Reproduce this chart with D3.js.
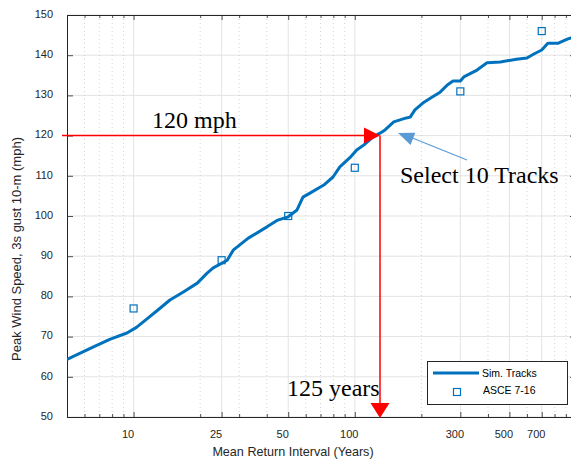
<!DOCTYPE html>
<html><head><meta charset="utf-8">
<script src="https://cdn.jsdelivr.net/npm/d3@7"></script>
<style>
body{margin:0;background:#fff;}
svg{display:block;}
</style></head>
<body><svg id="c" width="571" height="462"></svg>
<script>
// ---- data ----
const simYears = [5, 6.55, 7.8, 9.33, 10.3, 11.5, 13, 14.6, 17, 19.4, 21.5, 22.9, 26.5, 28.2, 33, 40.1, 44.5, 50, 54.8, 58.3, 62.7, 72.4, 79.7, 85.6, 95, 102, 110, 121, 130, 137, 150, 171, 178, 187, 203, 224, 243, 262, 278, 300, 311, 357, 396, 455, 538, 600, 645, 700, 746, 832, 914, 948, 1000];
const simSpeed = [64.3, 67.4, 69.3, 70.9, 72.3, 74.4, 76.8, 79.1, 81.3, 83.3, 85.8, 87.1, 89.0, 91.5, 94.5, 97.3, 98.9, 99.8, 101.5, 104.7, 105.7, 107.7, 109.7, 112.2, 114.5, 116.4, 117.7, 119.7, 120.6, 121.4, 123.4, 124.4, 124.6, 126.4, 128.1, 129.6, 130.8, 132.6, 133.6, 133.6, 134.6, 136.3, 138.1, 138.3, 139.0, 139.3, 140.3, 141.3, 143.0, 143.0, 144.0, 144.3, 144.5];
const asceYears = [10, 25, 50, 100, 300, 700];
const asceSpeed = [77, 89, 100, 112, 131, 146];
const xTickValues = [10, 25, 50, 100, 300, 500, 700];
const xTickLabels = ["10", "25", "50", "100", "300", "500", "700"];
const xMinorValues = [6, 7, 8, 9, 20, 30, 40, 60, 70, 80, 90, 200, 400, 600, 800, 900];
const yTickValues = [50, 60, 70, 80, 90, 100, 110, 120, 130, 140, 150];
const seriesNames = ["Sim. Tracks", "ASCE 7-16"];
const annotLabels = ["120 mph", "125 years", "Select 10 Tracks"];
const targetSpeed = 120;      // horizontal red arrow level (mph)
const targetArrowYears = 130; // position of the vertical red arrow as drawn

// ---- layout ----
const L = 67, R = 576, T = 15, B = 417;
const sans = "'Liberation Sans',Arial,Helvetica,sans-serif";
const serif = "'Liberation Serif','Times New Roman',Times,serif";
const svg = d3.select("#c");
const x = d3.scaleLog().domain([5, 1000]).range([L, R]);
const y = d3.scaleLinear().domain([50, 150]).range([B, T]);
const blue = "#0072BD", axCol = "#262626";

svg.append("defs").append("clipPath").attr("id","clip")
  .append("rect").attr("x",L).attr("y",T).attr("width",R-L).attr("height",B-T);

// grid
const g = svg.append("g");
g.selectAll(".ym").data(yTickValues).join("line")
  .attr("x1",L).attr("x2",R).attr("y1",d=>y(d)).attr("y2",d=>y(d))
  .attr("stroke","#e3e3e3").attr("stroke-width",1);
g.selectAll(".xmin").data(xMinorValues).join("line")
  .attr("x1",d=>x(d)).attr("x2",d=>x(d)).attr("y1",T).attr("y2",B)
  .attr("stroke","#c8c8c8").attr("stroke-width",0.8).attr("stroke-dasharray","1,3");
g.selectAll(".xmaj").data(xTickValues).join("line")
  .attr("x1",d=>x(d)).attr("x2",d=>x(d)).attr("y1",T).attr("y2",B)
  .attr("stroke","#e3e3e3").attr("stroke-width",1);

// axes
const fmt = (d)=> xTickLabels[xTickValues.indexOf(d)];
const xb = svg.append("g").attr("transform",`translate(0,${B})`)
  .call(d3.axisBottom(x).tickValues(xTickValues).tickFormat(fmt).tickSizeInner(-5).tickSizeOuter(0).tickPadding(13));
const xbm = svg.append("g").attr("transform",`translate(0,${B})`)
  .call(d3.axisBottom(x).tickValues(xMinorValues).tickFormat("").tickSizeInner(-3).tickSizeOuter(0));
const xt = svg.append("g").attr("transform",`translate(0,${T})`)
  .call(d3.axisTop(x).tickValues(xTickValues).tickFormat("").tickSizeInner(-5).tickSizeOuter(0));
const xtm = svg.append("g").attr("transform",`translate(0,${T})`)
  .call(d3.axisTop(x).tickValues(xMinorValues).tickFormat("").tickSizeInner(-3).tickSizeOuter(0));
const yl = svg.append("g").attr("transform",`translate(${L},0)`)
  .call(d3.axisLeft(y).tickValues(yTickValues).tickSizeInner(-6).tickSizeOuter(0).tickPadding(14));
const yr = svg.append("g").attr("transform",`translate(${R},0)`)
  .call(d3.axisRight(y).tickValues(yTickValues).tickFormat("").tickSizeInner(-6).tickSizeOuter(0));
[xb,xbm,xt,xtm,yl,yr].forEach(a=>{
  a.select(".domain").attr("stroke",axCol).attr("stroke-width",1);
  a.selectAll(".tick line").attr("stroke",axCol).attr("stroke-width",0.8);
  a.selectAll(".tick text").attr("fill",axCol).style("font-size","11px").style("font-family",sans);
});
xb.selectAll(".tick text").attr("dx",-6);
yl.selectAll(".tick text").attr("dy","0.2em");

// axis labels
svg.append("text").attr("x",293).attr("y",456).attr("text-anchor","middle")
  .style("font-size","12.6px").style("font-family",sans).attr("fill",axCol).text("Mean Return Interval (Years)");
svg.append("text").attr("transform","translate(21,249) rotate(-90)").attr("text-anchor","middle")
  .style("font-size","13px").style("font-family",sans).attr("fill",axCol).text("Peak Wind Speed, 3s gust 10-m (mph)");

// series
const plot = svg.append("g").attr("clip-path","url(#clip)");
const lineData = simYears.map((v,i)=>[v,simSpeed[i]]);
plot.append("path").datum(lineData)
  .attr("d", d3.line().x(d=>x(d[0])).y(d=>y(d[1])))
  .attr("fill","none").attr("stroke",blue).attr("stroke-width",3).attr("stroke-linejoin","round");
const sq = 7;
plot.selectAll(".sq").data(asceYears.map((v,i)=>[v,asceSpeed[i]])).join("rect")
  .attr("x",d=>x(d[0])-sq/2).attr("y",d=>y(d[1])-sq/2).attr("width",sq).attr("height",sq)
  .attr("fill","none").attr("stroke",blue).attr("stroke-width",1.2);

// red annotation
const red = "#ff0000";
const tx = x(targetArrowYears), ty = y(targetSpeed);
svg.append("line").attr("x1",62).attr("x2",tx-14).attr("y1",ty).attr("y2",ty)
  .attr("stroke",red).attr("stroke-width",1.5);
svg.append("path").attr("d",`M${tx},${ty} L${tx-16},${ty-8} L${tx-16},${ty+8} Z`).attr("fill",red);
svg.append("line").attr("x1",tx).attr("x2",tx).attr("y1",ty).attr("y2",B-14)
  .attr("stroke",red).attr("stroke-width",1.5);
svg.append("path").attr("d",`M${tx},${B+1} L${tx-9.5},${B-14} L${tx+9.5},${B-14} Z`).attr("fill",red);

svg.append("text").attr("x",152).attr("y",128).style("font-family",serif).style("font-size","24px")
  .attr("fill","#000").text(annotLabels[0]);
svg.append("text").attr("x",287).attr("y",396).style("font-family",serif).style("font-size","24px")
  .attr("fill","#000").text(annotLabels[1]);
svg.append("text").attr("x",400).attr("y",183).style("font-family",serif).style("font-size","24px")
  .attr("fill","#000").text(annotLabels[2]);

// blue pointer arrow
const bl = "#5b9bd5";
svg.append("line").attr("x1",467).attr("y1",160).attr("x2",410).attr("y2",137)
  .attr("stroke",bl).attr("stroke-width",1.2);
(function(){
  const tipx=398, tipy=133, ang=Math.atan2(160-133,467-398);
  const len=16, w=6.5;
  const bx=tipx+len*Math.cos(ang), by=tipy+len*Math.sin(ang);
  const px=-Math.sin(ang)*w, py=Math.cos(ang)*w;
  svg.append("path").attr("d",`M${tipx},${tipy} L${bx+px},${by+py} L${bx-px},${by-py} Z`).attr("fill",bl);
})();

// legend
const lg = svg.append("g");
lg.append("rect").attr("x",427.5).attr("y",361.5).attr("width",140).attr("height",43)
  .attr("fill","#fff").attr("stroke",axCol).attr("stroke-width",1);
lg.append("line").attr("x1",433).attr("x2",479).attr("y1",373).attr("y2",373)
  .attr("stroke",blue).attr("stroke-width",3);
lg.append("rect").attr("x",457-sq/2).attr("y",392-sq/2).attr("width",sq).attr("height",sq)
  .attr("fill","none").attr("stroke",blue).attr("stroke-width",1.2);
lg.append("text").attr("x",482).attr("y",376.5).style("font-size","10.5px").style("font-family",sans).attr("fill","#000").text(seriesNames[0]);
lg.append("text").attr("x",483).attr("y",394).style("font-size","10.5px").style("font-family",sans).attr("fill","#000").text(seriesNames[1]);
</script></body></html>
